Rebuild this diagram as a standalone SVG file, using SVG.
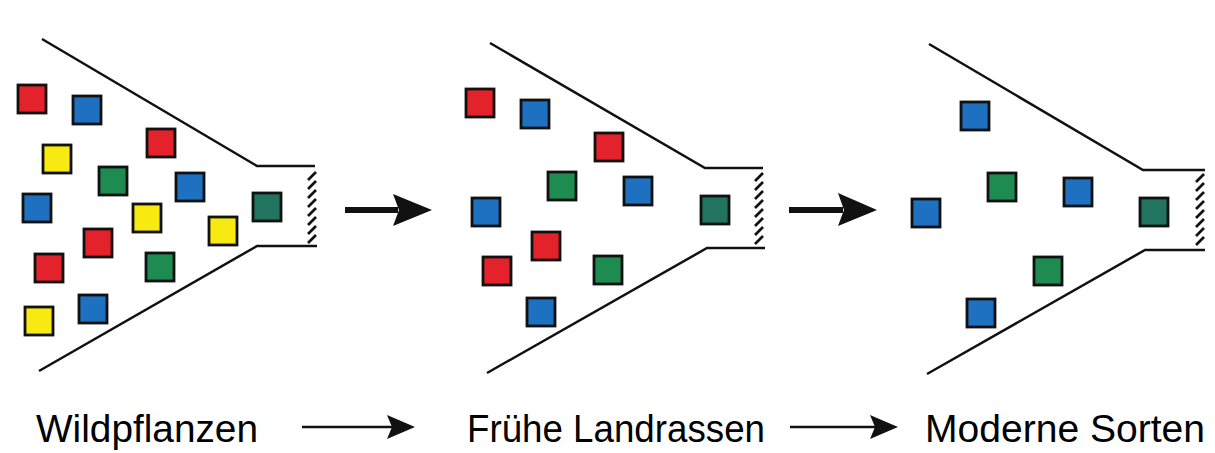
<svg xmlns="http://www.w3.org/2000/svg" xmlns:xlink="http://www.w3.org/1999/xlink" width="1215" height="453" viewBox="0 0 1215 453">
<style>
.fun{fill:none;stroke:#111;stroke-width:2.5;stroke-linejoin:miter}
.sq{stroke:#111;stroke-width:2.8}
.r{fill:#e3222b}.b{fill:#1e70c1}.y{fill:#f7ea10}.g{fill:#1e8c50}.t{fill:#217560}
.lbl{font-family:"Liberation Sans",Arial,sans-serif;font-size:38px;fill:#000}
.h{stroke:#111;stroke-width:2.6}
.ar{fill:#111}
</style>
<defs>
<g id="hatch">
<line class="h" x1="0" y1="8" x2="8" y2="0"/>
<line class="h" x1="0" y1="17" x2="8" y2="9"/>
<line class="h" x1="0" y1="26" x2="8" y2="18"/>
<line class="h" x1="0" y1="35" x2="8" y2="27"/>
<line class="h" x1="0" y1="44" x2="8" y2="36"/>
<line class="h" x1="0" y1="53" x2="8" y2="45"/>
<line class="h" x1="0" y1="62" x2="8" y2="54"/>
<line class="h" x1="0" y1="71" x2="8" y2="63"/>
</g>
</defs>
<rect width="1215" height="453" fill="#fff"/>

<g id="funnel1">
<polyline class="fun" points="42,39 257,166 315,166"/>
<polyline class="fun" points="39,371 257,246 317,246"/>
<use xlink:href="#hatch" x="308" y="172"/>
<rect class="sq r" x="18" y="85" width="28" height="28"/>
<rect class="sq b" x="73" y="96" width="28" height="28"/>
<rect class="sq y" x="43" y="145" width="28" height="28"/>
<rect class="sq r" x="147" y="129" width="28" height="28"/>
<rect class="sq g" x="99" y="167" width="28" height="28"/>
<rect class="sq b" x="176" y="173" width="28" height="28"/>
<rect class="sq b" x="23" y="194" width="28" height="28"/>
<rect class="sq y" x="133" y="204" width="28" height="28"/>
<rect class="sq t" x="253" y="193" width="28" height="28"/>
<rect class="sq y" x="209" y="217" width="28" height="28"/>
<rect class="sq r" x="84" y="229" width="28" height="28"/>
<rect class="sq r" x="35" y="254" width="28" height="28"/>
<rect class="sq g" x="146" y="253" width="28" height="28"/>
<rect class="sq b" x="79" y="295" width="28" height="28"/>
<rect class="sq y" x="25" y="307" width="28" height="28"/>
</g>

<g id="funnel2">
<polyline class="fun" points="490,43 705,168 763,168"/>
<polyline class="fun" points="487,373 707,248 765,248"/>
<use xlink:href="#hatch" x="755" y="173"/>
<rect class="sq r" x="466" y="89" width="28" height="28"/>
<rect class="sq b" x="521" y="100" width="28" height="28"/>
<rect class="sq r" x="595" y="133" width="28" height="28"/>
<rect class="sq g" x="548" y="172" width="28" height="28"/>
<rect class="sq b" x="624" y="177" width="28" height="28"/>
<rect class="sq b" x="472" y="198" width="28" height="28"/>
<rect class="sq t" x="701" y="196" width="28" height="28"/>
<rect class="sq r" x="532" y="232" width="28" height="28"/>
<rect class="sq r" x="483" y="257" width="28" height="28"/>
<rect class="sq g" x="594" y="256" width="28" height="28"/>
<rect class="sq b" x="527" y="298" width="28" height="28"/>
</g>

<g id="funnel3">
<polyline class="fun" points="929,44 1143,170 1205,170"/>
<polyline class="fun" points="927,374 1145,250 1205,250"/>
<use xlink:href="#hatch" x="1196" y="174"/>
<rect class="sq b" x="961" y="102" width="28" height="28"/>
<rect class="sq g" x="988" y="173" width="28" height="28"/>
<rect class="sq b" x="1064" y="178" width="28" height="28"/>
<rect class="sq b" x="912" y="199" width="28" height="28"/>
<rect class="sq t" x="1140" y="198" width="28" height="28"/>
<rect class="sq g" x="1034" y="257" width="28" height="28"/>
<rect class="sq b" x="967" y="299" width="28" height="28"/>
</g>

<g id="connectors">
<line x1="345" y1="210" x2="398" y2="210" stroke="#111" stroke-width="6"/>
<path class="ar" d="M393,194 L432,210 L393,226 L399,210 Z"/>
<line x1="789" y1="210" x2="843" y2="210" stroke="#111" stroke-width="6"/>
<path class="ar" d="M838,193 L877,210 L838,226 L844,210 Z"/>
<line x1="302" y1="427" x2="393" y2="427" stroke="#111" stroke-width="2.6"/>
<path class="ar" d="M387,415 L415,427 L387,439 L392,427 Z"/>
<line x1="790" y1="427" x2="876" y2="427" stroke="#111" stroke-width="2.6"/>
<path class="ar" d="M870,415 L898,427 L870,439 L875,427 Z"/>
</g>

<g id="labels">
<text class="lbl" x="36" y="442" textLength="222" lengthAdjust="spacingAndGlyphs">Wildpflanzen</text>
<text class="lbl" x="467" y="442" textLength="298" lengthAdjust="spacingAndGlyphs">Frühe Landrassen</text>
<text class="lbl" x="925" y="442" textLength="280" lengthAdjust="spacingAndGlyphs">Moderne Sorten</text>
</g>
</svg>
